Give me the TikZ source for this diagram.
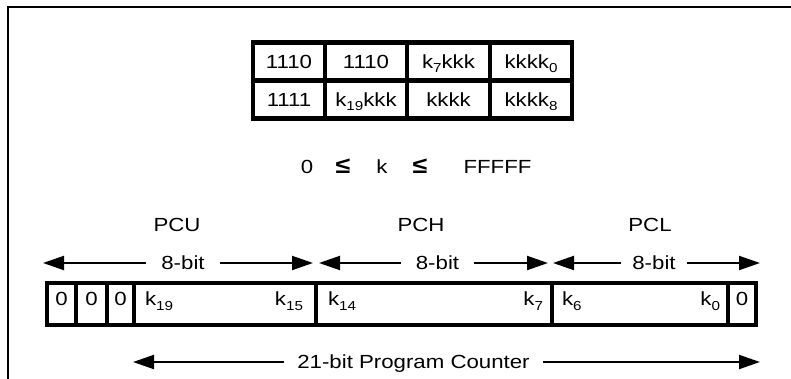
\documentclass[tikz,border=0pt]{standalone}
\usepackage{fontspec}
\setmainfont{Liberation Sans}[FakeStretch=1.17]
\usetikzlibrary{arrows.meta}
\newcommand\lsub[1]{\raisebox{-4.5pt}{\fontsize{13}{13}\selectfont #1}}
\begin{document}
\begin{tikzpicture}[x=1pt,y=-1pt,
  every node/.style={font=\fontsize{19}{19}\selectfont, inner sep=0pt, outer sep=0pt},
  txt/.style={text height=13.6pt, text depth=0pt},
  tcell/.style={draw, line width=4.5pt, txt, minimum height=38pt},
  rcell/.style={draw, line width=4.5pt, minimum height=42pt},
  lbl/.style={txt, inner xsep=15pt},
  leq/.style={txt, font=\fontsize{23}{23}\selectfont\bfseries},
  arr/.style={-{Triangle[length=21pt,width=14pt]}, line width=2pt},
  frame/.style={line width=1.5pt}]
\useasboundingbox (0,0) rectangle (791,379);
\fill[white] (0,0) rectangle (791,379);
% partial frame
\draw[frame] (8,379) -- (8,7) -- (791,7);
% instruction table
\node[tcell, minimum width=72pt] (a1) at (289,61.5) {1110};
\node[tcell, minimum width=82pt] (a2) at (366,61.5) {1110};
\node[tcell, minimum width=83pt] (a3) at (448.5,61.5) {k\lsub{7}kkk};
\node[tcell, minimum width=82pt] (a4) at (531,61.5) {kkkk\lsub{0}};
\node[tcell, minimum width=72pt] (b1) at (289,99.5) {1111};
\node[tcell, minimum width=82pt] (b2) at (366,99.5) {k\lsub{19}kkk};
\node[tcell, minimum width=83pt] (b3) at (448.5,99.5) {kkkk};
\node[tcell, minimum width=82pt] (b4) at (531,99.5) {kkkk\lsub{8}};
% range
\node[txt] (r0) at (307,167) {0};
\node[leq] (r1) at (343,167) {≤};
\node[txt] (r2) at (382,167) {k};
\node[leq] (r3) at (420,167) {≤};
\node[txt] (r4) at (497.5,167) {FFFFF};
% register names
\node[txt] (pcu) at (177,225) {PCU};
\node[txt] (pch) at (421,225) {PCH};
\node[txt] (pcl) at (650,225) {PCL};
% 8-bit arrows
\coordinate (t1l) at (43,263);
\coordinate (t1r) at (313,263);
\coordinate (t2l) at (319,263);
\coordinate (t2r) at (548,263);
\coordinate (t3l) at (553,263);
\coordinate (t3r) at (760,263);
\node[lbl] (e1) at (183,263) {8-bit};
\node[lbl] (e2) at (437.5,263) {8-bit};
\node[lbl, inner xsep=11pt] (e3) at (654,263) {8-bit};
\draw[arr] (e1.west) -- (t1l);
\draw[arr] (e1.east) -- (t1r);
\draw[arr] (e2.west) -- (t2l);
\draw[arr] (e2.east) -- (t2r);
\draw[arr] (e3.west) -- (t3l);
\draw[arr] (e3.east) -- (t3r);
% register
\node[rcell, minimum width=29pt] (z1) at (61.5,304) {};
\node[rcell, minimum width=31pt] (z2) at (91.5,304) {};
\node[rcell, minimum width=27pt] (z3) at (120.5,304) {};
\node[rcell, minimum width=182pt] (f1) at (225,304) {};
\node[rcell, minimum width=236pt] (f2) at (434,304) {};
\node[rcell, minimum width=176pt] (f3) at (640,304) {};
\node[rcell, minimum width=28pt] (z4) at (742,304) {};
\node[txt] (z1t) at (61.5,299) {0};
\node[txt] (z2t) at (91.5,299) {0};
\node[txt] (z3t) at (120.5,299) {0};
\node[txt] (z4t) at (742,299) {0};
\node[txt, anchor=west] (k19) at (145,299) {k\lsub{19}};
\node[txt, anchor=east] (k15) at (303,299) {k\lsub{15}};
\node[txt, anchor=west] (k14) at (328,299) {k\lsub{14}};
\node[txt, anchor=east] (k7) at (543,299) {k\lsub{7}};
\node[txt, anchor=west] (k6) at (562,299) {k\lsub{6}};
\node[txt, anchor=east] (k0) at (720,299) {k\lsub{0}};
% program counter arrow
\coordinate (pl) at (133,362);
\coordinate (pr) at (760,362);
\node[lbl, inner xsep=13pt] (pc) at (413.5,362) {21-bit Program Counter};
\draw[arr] (pc.west) -- (pl);
\draw[arr] (pc.east) -- (pr);
\end{tikzpicture}
\end{document}
